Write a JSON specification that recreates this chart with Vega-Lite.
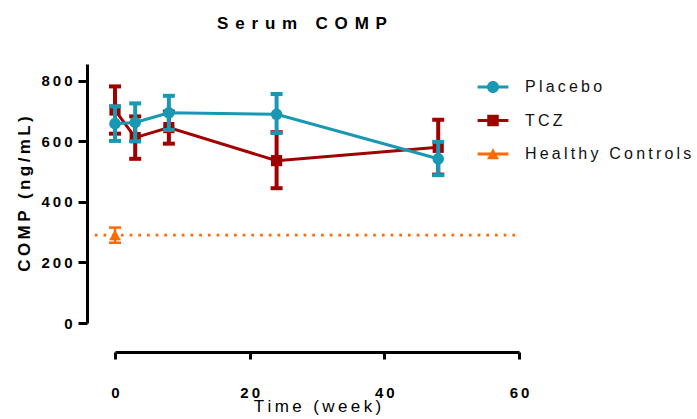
{
  "$schema": "https://vega.github.io/schema/vega-lite/v6.json",
  "width": 404,
  "height": 259,
  "autosize": {"type": "none"},
  "padding": {"left": 115, "top": 64, "right": 178, "bottom": 96},
  "background": "white",
  "title": {
    "text": "S\u2009\u2009e\u2009\u2009r\u2009\u2009u\u2009\u2009m\u2009\u2009 \u2009\u2009C\u2009\u2009O\u2009\u2009M\u2009\u2009P",
    "font": "Liberation Sans",
    "fontSize": 17,
    "fontWeight": "bold",
    "color": "#000",
    "anchor": "middle",
    "offset": 31,
    "dx": -15
  },
  "datasets": {
    "groups": [
      {"group": "TCZ", "week": 0, "mean": 703, "lower": 625, "upper": 781},
      {"group": "TCZ", "week": 3, "mean": 612, "lower": 542, "upper": 682},
      {"group": "TCZ", "week": 8, "mean": 645, "lower": 592, "upper": 698},
      {"group": "TCZ", "week": 24, "mean": 536, "lower": 445, "upper": 630},
      {"group": "TCZ", "week": 48, "mean": 580, "lower": 490, "upper": 671},
      {"group": "Placebo", "week": 0, "mean": 658, "lower": 601, "upper": 715},
      {"group": "Placebo", "week": 3, "mean": 662, "lower": 600, "upper": 725},
      {"group": "Placebo", "week": 8, "mean": 694, "lower": 637, "upper": 750},
      {"group": "Placebo", "week": 24, "mean": 689, "lower": 627, "upper": 756},
      {"group": "Placebo", "week": 48, "mean": 542, "lower": 488, "upper": 598},
      {"group": "Healthy Controls", "week": 0, "mean": 290, "lower": 265, "upper": 315}
    ],
    "refline": [
      {"group": "Healthy Controls", "from": -3, "to": 60, "level": 290}
    ]
  },
  "config": {
    "view": {"stroke": null},
    "font": "Liberation Sans",
    "axisX": {
      "offset": 29, "domainWidth": 3, "domainColor": "#000", "tickWidth": 3, "tickSize": 7, "tickColor": "#000",
      "labelFont": "Liberation Sans", "labelFontSize": 15, "labelFontWeight": "bold", "labelColor": "#000", "labelPadding": 26, "labelFlush": false,
      "labelExpr": "join(split(datum.label, ''), '\u2009')",
      "grid": false, "titleFont": "Liberation Sans", "titleFontSize": 17, "titleFontWeight": "normal", "titleColor": "#000", "titlePadding": -2
    },
    "axisY": {
      "offset": 28, "domainWidth": 3, "domainColor": "#000", "tickWidth": 3, "tickSize": 9, "tickColor": "#000",
      "labelFont": "Liberation Sans", "labelFontSize": 15, "labelFontWeight": "bold", "labelColor": "#000", "labelPadding": 6, "labelFlush": false,
      "labelExpr": "join(split(datum.label, ''), '\u2009')",
      "grid": false, "titleFont": "Liberation Sans", "titleFontSize": 17, "titleFontWeight": "bold", "titleColor": "#000", "titlePadding": 7
    }
  },
  "encoding": {
    "x": {"field": "week", "type": "quantitative", "scale": {"domain": [0, 60], "nice": false}, "axis": {"values": [0, 20, 40, 60]}, "title": "T\u2009i\u2009m\u2009e\u2009 \u2009(\u2009w\u2009e\u2009e\u2009k\u2009)"},
    "y": {"field": "mean", "type": "quantitative", "scale": {"domain": [0, 855], "nice": false}, "axis": {"values": [0, 200, 400, 600, 800]}, "title": "C\u2009O\u2009M\u2009P\u2009 \u2009(\u2009n\u2009g\u2009/\u2009m\u2009L\u2009)"}
  },
  "layer": [
    {
      "data": {"name": "refline"},
      "mark": {"type": "rule", "strokeWidth": 2.7, "strokeDash": [2.7, 6], "color": "#ff6a00"},
      "encoding": {
        "x": {"field": "from", "type": "quantitative", "title": "T\u2009i\u2009m\u2009e\u2009 \u2009(\u2009w\u2009e\u2009e\u2009k\u2009)"},
        "x2": {"field": "to"},
        "y": {"field": "level", "type": "quantitative", "title": "C\u2009O\u2009M\u2009P\u2009 \u2009(\u2009n\u2009g\u2009/\u2009m\u2009L\u2009)"}
      }
    },
    {
      "data": {"name": "groups"},
      "transform": [{"filter": "datum.group === 'TCZ'"}],
      "layer": [
        {"mark": {"type": "errorbar", "ticks": {"opacity": 1}, "rule": {"opacity": 1}, "size": 12, "thickness": 4},
         "encoding": {"y": {"field": "lower", "type": "quantitative", "title": "C\u2009O\u2009M\u2009P\u2009 \u2009(\u2009n\u2009g\u2009/\u2009m\u2009L\u2009)"}, "y2": {"field": "upper"}, "color": {"field": "group", "type": "nominal"}}},
        {"mark": {"type": "line", "strokeWidth": 3},
         "encoding": {"color": {"field": "group", "type": "nominal"}}},
        {"mark": {"type": "point", "filled": true, "opacity": 1, "size": 125, "shape": "square"},
         "encoding": {"color": {"field": "group", "type": "nominal"}}}
      ]
    },
    {
      "data": {"name": "groups"},
      "transform": [{"filter": "datum.group === 'Placebo'"}],
      "layer": [
        {"mark": {"type": "errorbar", "ticks": {"opacity": 1}, "rule": {"opacity": 1}, "size": 12, "thickness": 4},
         "encoding": {"y": {"field": "lower", "type": "quantitative", "title": "C\u2009O\u2009M\u2009P\u2009 \u2009(\u2009n\u2009g\u2009/\u2009m\u2009L\u2009)"}, "y2": {"field": "upper"}, "color": {"field": "group", "type": "nominal"}}},
        {"mark": {"type": "line", "strokeWidth": 3},
         "encoding": {"color": {"field": "group", "type": "nominal"}}},
        {"mark": {"type": "point", "filled": true, "opacity": 1, "size": 135, "shape": "circle"},
         "encoding": {"color": {"field": "group", "type": "nominal"}}}
      ]
    },
    {
      "data": {"name": "groups"},
      "transform": [{"filter": "datum.group === 'Healthy Controls'"}],
      "layer": [
        {"mark": {"type": "errorbar", "ticks": {"opacity": 1}, "rule": {"opacity": 1}, "size": 12, "thickness": 2.5},
         "encoding": {"y": {"field": "lower", "type": "quantitative", "title": "C\u2009O\u2009M\u2009P\u2009 \u2009(\u2009n\u2009g\u2009/\u2009m\u2009L\u2009)"}, "y2": {"field": "upper"}, "color": {"field": "group", "type": "nominal"}}},
        {"mark": {"type": "point", "filled": true, "opacity": 1, "size": 140, "shape": "triangle-up"},
         "encoding": {"color": {"field": "group", "type": "nominal"}}}
      ]
    },
    {
      "data": {"name": "groups"},
      "mark": {"type": "point", "filled": true, "opacity": 0, "size": 10},
      "encoding": {
        "color": {"field": "group", "type": "nominal",
          "scale": {"domain": ["Placebo", "TCZ", "Healthy Controls"], "range": ["#1898b3", "#a00000", "#ff6a00"]},
          "legend": {
            "orient": "none", "legendX": 370, "legendY": 15, "title": null, "padding": 0,
            "symbolSize": 196, "symbolStrokeWidth": 0, "symbolOpacity": 1, "labelFont": "Liberation Sans", "labelFontSize": 16, "labelColor": "#111",
            "labelOffset": 24, "labelLimit": 300, "rowPadding": 17.5, "labelExpr": "join(split(datum.label, ''), '\u2009')"
          }},
        "shape": {"field": "group", "type": "nominal",
          "scale": {"domain": ["Placebo", "TCZ", "Healthy Controls"],
            "range": [
              "M-2.2,-0.2H2.2V0.2H-2.2ZM0.86,0A0.86,0.86,0,1,1,-0.86,0A0.86,0.86,0,1,1,0.86,0Z",
              "M-2.2,-0.2H2.2V0.2H-2.2ZM-0.82,-0.82H0.82V0.82H-0.82Z",
              "M-2.2,-0.2H2.2V0.2H-2.2ZM0,-0.82L0.86,0.76H-0.86Z"
            ]}}
      }
    }
  ]
}
